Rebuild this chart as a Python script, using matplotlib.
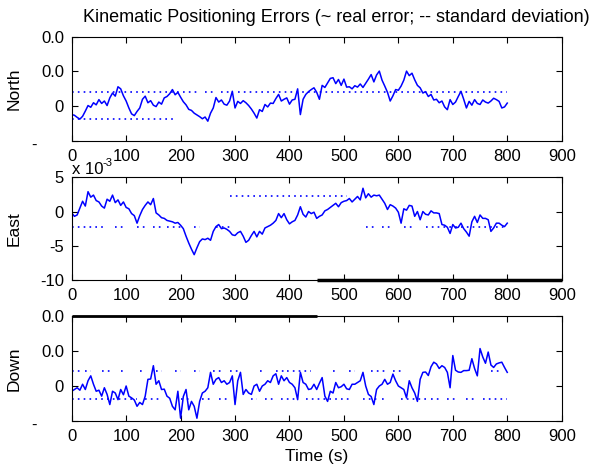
import numpy as np
import matplotlib
matplotlib.use("Agg")
import matplotlib.pyplot as plt

plt.rcParams['font.family'] = ['Liberation Sans', 'DejaVu Sans']

# time axis, 5 s steps
t = np.arange(0, 805, 5)

# errors in units of 1e-3
north = [-2.4, -2.6, -3.2, -3.7, -2.9, -1.4, 0.2, -0.3, 1.0, 0.4, 1.9, 0.8, 1.5, 0.2, 2.4, 3.8, 2.9, 5.6, 5.0, 3.0,
         1.5, -0.5, -2.2, -2.7, -1.5, -0.5, 2.0, 2.9, 1.0, 1.6, 0.3, -0.1, 1.2, 0.6, 2.4, 2.8, 3.6, 4.8, 3.3, 4.0,
         2.6, 1.3, 0.4, -0.9, -1.2, -2.0, -2.5, -3.0, -3.6, -3.1, -4.3, -2.0, -0.5, 2.5, 1.2, 1.8, 0.6, 0.3, 1.5, 4.3,
         -0.5, 1.4, 0.8, 1.6, 1.0, 0.2, -0.8, -2.0, -3.4, -1.0, -1.5, 0.5, -0.2, 0.9, 0.8, 2.2, 3.4, 1.5, 2.0, 2.4,
         0.6, 1.8, 2.0, 5.0, -2.4, 2.0, 3.4, 4.2, 4.8, 5.3, 4.0, 2.0, 6.0, 5.4, 6.7, 8.0, 8.2, 6.5, 7.7, 6.0,
         7.8, 5.5, 5.6, 5.0, 5.9, 5.5, 6.4, 5.4, 6.6, 7.8, 9.1, 7.0, 9.0, 10.1, 7.5, 5.8, 4.0, 1.5, 3.0, 4.8,
         4.6, 5.8, 7.5, 10.1, 8.8, 9.5, 7.6, 6.0, 5.3, 3.8, 4.2, 2.8, 3.4, 1.8, 2.0, 1.0, 1.5, -0.2, -1.0, 1.9,
         0.5, 1.2, 2.8, 4.3, 2.0, -0.5, 1.4, 0.3, 1.9, 0.8, 0.5, 1.8, 1.2, 0.9, 1.5, 2.3, 1.9, 1.4, -0.5, -0.2,
         0.9]
east = [-0.2, -0.7, -0.5, 0.5, 1.5, 0.8, 2.9, 2.1, 2.4, 1.6, 1.4, 0.8, 0.5, 1.8, 1.5, 2.4, 1.3, 1.7, 0.9, 1.4,
        0.6, 0.4, -0.3, -0.6, -1.7, -0.6, 0.3, 0.9, 1.4, 1.0, 1.9, -0.2, -0.5, -0.9, -1.0, -1.3, -1.4, -1.5, -1.7, -1.6,
        -2.0, -2.5, -3.6, -4.6, -5.5, -6.3, -5.3, -4.4, -4.0, -4.1, -3.9, -4.2, -2.9, -2.2, -1.9, -2.5, -2.4, -2.6, -2.9, -3.4,
        -3.5, -3.1, -2.9, -3.6, -4.5, -4.2, -3.5, -2.9, -3.7, -2.9, -3.3, -2.4, -2.2, -2.0, -1.7, -1.3, -0.3, -0.9, -0.3, -1.2,
        -1.8, -1.5, -1.3, -0.5, 0.7, -0.4, -0.8, 0.0, -0.3, -0.1, -1.0, -0.7, -0.5, 0.1, 0.3, 0.6, 0.9, 1.2, 0.7, 1.3,
        1.5, 1.6, 1.9, 1.4, 1.8, 2.2, 1.7, 3.4, 2.0, 2.6, 2.1, 2.4, 2.3, 2.4, 1.8, 1.2, 0.3, 1.0, 0.8, 0.5,
        -0.1, -1.7, 0.4, 0.2, 0.9, 0.8, -0.7, 0.0, -1.2, 0.0, -0.4, -0.5, 0.1, -0.2, -0.2, -0.3, -1.9, -2.0, -2.3, -3.2,
        -1.9, -2.4, -2.3, -1.7, -2.5, -3.0, -3.6, -1.5, -0.7, -1.6, -0.5, -1.0, -1.0, -1.2, -2.9, -2.4, -1.7, -1.7, -2.0, -2.2,
        -1.7]
down = [-1.5, -1.0, -0.5, -1.2, 0.5, -1.0, 1.5, 2.9, 0.5, -1.5, -1.2, -2.9, -0.5, -2.4, -5.3, -1.5, -2.0, -3.9, -1.0, -2.5,
        0.0, -2.9, -3.4, -4.0, -5.8, -4.7, -5.3, -2.9, 1.9, 2.0, 5.8, 0.5, 1.5, -1.0, -0.9, -2.9, -3.5, -5.8, -6.8, -1.5,
        -9.2, -3.0, -1.0, -6.8, -4.4, -5.8, -9.2, -4.4, -2.0, -1.5, -0.5, 3.9, 0.5, 1.9, 2.4, 1.0, 1.5, 0.5, 1.0, 2.9,
        -5.3, 1.5, 3.9, -2.4, -1.0, -2.0, -2.4, 0.0, 0.5, -1.5, 0.0, 0.5, 1.5, 1.0, 2.9, 3.5, 0.5, 2.9, 1.5, 2.4,
        1.0, 0.5, -0.5, -3.9, 3.9, 1.0, 0.5, -1.0, -0.8, 0.5, -1.0, 0.8, 2.4, -2.9, -4.4, -1.5, -2.0, 1.0, -0.5, -0.2,
        0.5, -0.8, -1.0, 0.5, 0.5, 1.0, 1.5, 3.9, 0.0, -2.4, -3.0, -5.3, -1.0, 0.0, 0.5, 1.9, 0.5, 1.0, 3.4, 1.5,
        0.0, -0.5, -1.0, -3.4, 1.5, -0.5, -2.0, -4.4, 1.9, 3.9, 4.0, 3.0, 5.5, 6.8, 6.3, 5.0, 5.8, 5.3, 3.9, -0.5,
        8.7, 4.5, 4.0, 3.9, 4.4, 4.4, 4.5, 7.8, 5.0, 2.9, 10.7, 8.3, 6.5, 9.7, 6.0, 5.3, 6.3, 6.6, 6.8, 5.3,
        3.9]

# standard deviation levels (1e-3) and the time spans where the dotted line shows
north_sd = [(4.2, [(0, 200), (205, 230), (245, 265), (275, 290), (305, 800)]),
            (-3.8, [(0, 190)])]
east_sd = [(2.2, [(290, 505)]),
           (-2.2, [(0, 60), (80, 95), (120, 135), (150, 165), (175, 205), (225, 235), (265, 290),
                   (540, 560), (570, 590), (610, 630), (650, 800)])]
down_sd = [(4.4, [(0, 15), (25, 35), (55, 70), (90, 100), (125, 135), (155, 165), (190, 200), (225, 235),
                  (260, 275), (290, 310), (345, 355), (375, 390), (395, 440), (480, 490), (510, 520), (550, 575),
                  (590, 605), (770, 790)]),
           (-3.7, [(0, 120), (135, 165), (200, 215), (240, 255), (270, 290), (330, 340), (355, 375), (385, 410),
                   (430, 510), (535, 560), (570, 580), (605, 650), (660, 675), (690, 710), (725, 745), (755, 800)])]

fig = plt.figure(figsize=(5.96, 4.69), dpi=100)
W, H = 596.0, 469.0
left, width = 71.7 / W, 490 / W
rects = [(left, 1 - 141 / H, width, 104.3 / H),
         (left, 1 - 280 / H, width, 102.7 / H),
         (left, 1 - 421 / H, width, 105 / H)]

blue = '#0000ff'
fs = 12
lfs = 12.5
ylab_x = (22 - 71.7) / 490


def draw(ax, vals, sd, scale):
    ax.plot(t, np.array(vals) * scale, color=blue, lw=1.1)
    for level, spans in sd:
        for a, b in spans:
            ax.plot([a, b], [level * scale, level * scale], color=blue, lw=1.2,
                    linestyle=(0, (1, 2.5)))
    ax.set_xlim(0, 900)
    ax.set_xticks(range(0, 1000, 100))
    ax.tick_params(direction='in', top=True, right=True, length=4, width=0.8,
                   labelsize=fs, pad=5.5)
    for s in ax.spines.values():
        s.set_linewidth(0.8)


axes = [fig.add_axes(r) for r in rects]

fig.text(336.5 / W, 1 - 17 / H, 'Kinematic Positioning Errors (~ real error; -- standard deviation)',
         fontsize=13, ha='center', va='center')

# North
ax = axes[0]
draw(ax, north, north_sd, 1e-3)
ax.set_ylim(-0.01, 0.02)
ax.set_yticks([-0.01, 0, 0.01, 0.02])
ax.set_yticklabels(['', '0', '0.0', '0.0'])
ax.annotate('-', xy=(0, -0.01), xycoords=('axes fraction', 'data'), xytext=(-40, -4),
            textcoords='offset pixels', fontsize=fs, ha='left', va='center')
ax.set_ylabel('North', fontsize=lfs)
ax.yaxis.set_label_coords(ylab_x, 0.5)

# East (in 1e-3)
ax = axes[1]
draw(ax, east, east_sd, 1.0)
ax.set_ylim(-10, 5)
ax.set_yticks([-10, -5, 0, 5])
ax.set_yticklabels(['-10', '-5', '0', '5'])
ax.set_ylabel('East', fontsize=lfs)
ax.yaxis.set_label_coords(ylab_x, 0.5)
ax.text(0.0, 1.0, 'x 10', transform=ax.transAxes, fontsize=fs, ha='left', va='bottom')
ax.text(0.062, 1.09, '-3', transform=ax.transAxes, fontsize=8, ha='left', va='bottom')
ax.plot([450, 900], [-10, -10], color='k', lw=2.5, clip_on=False, solid_capstyle='butt')

# Down
ax = axes[2]
draw(ax, down, down_sd, 1e-3)
ax.set_ylim(-0.01, 0.02)
ax.set_yticks([-0.01, 0, 0.01, 0.02])
ax.set_yticklabels(['', '0', '0.0', '0.0'])
ax.annotate('-', xy=(0, -0.01), xycoords=('axes fraction', 'data'), xytext=(-40, -4),
            textcoords='offset pixels', fontsize=fs, ha='left', va='center')
ax.set_ylabel('Down', fontsize=lfs)
ax.yaxis.set_label_coords(ylab_x, 0.5)
ax.set_xlabel('Time (s)', fontsize=lfs, labelpad=4)
ax.plot([0, 450], [0.02, 0.02], color='k', lw=2.0, clip_on=False, solid_capstyle='butt')

fig.savefig('out.png', dpi=100)
